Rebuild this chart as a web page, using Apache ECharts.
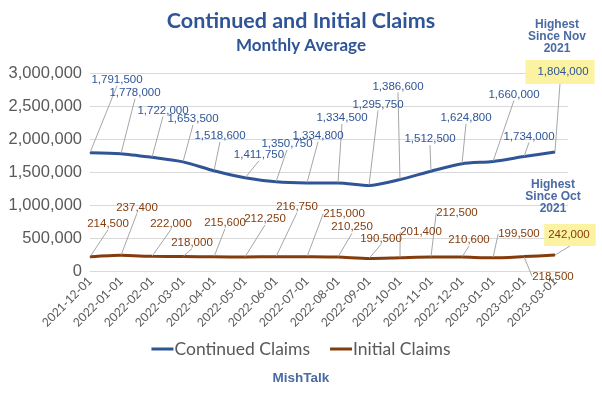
<!DOCTYPE html>
<html>
<head>
<meta charset="utf-8">
<script src="https://cdn.jsdelivr.net/npm/echarts@6/dist/echarts.min.js"></script>
<style>
  html, body { margin: 0; padding: 0; background: #fff; }
  #chart { width: 602px; height: 396px; }
</style>
</head>
<body>
<div id="chart"></div>
<script>
// months on the x axis
var months = ['2021-12-01', '2022-01-01', '2022-02-01', '2022-03-01', '2022-04-01', '2022-05-01',
  '2022-06-01', '2022-07-01', '2022-08-01', '2022-09-01', '2022-10-01', '2022-11-01',
  '2022-12-01', '2023-01-01', '2023-02-01', '2023-03-01'];

var continuedClaims = [1791500, 1778000, 1722000, 1653500, 1518600, 1411750, 1350750, 1334800,
  1334500, 1295750, 1386600, 1512500, 1624800, 1660000, 1734000, 1804000];

var initialClaims = [214500, 237400, 222000, 218000, 215600, 212250, 216750, 215000,
  210250, 190500, 201400, 212500, 210600, 199500, 218500, 242000];

// where each data label sits relative to its point (px), like the excel leader lines
var contLabelOffset = [[27, -73], [14, -61], [11, -47], [10, -43], [6, -35], [14, -23], [11, -38], [11, -47],
  [4, -65], [9, -81], [-2, -93], [-1, -32], [4, -46], [21, -67], [5, -20], [5, -80]];
var initLabelOffset = [[18, -33], [16, -48], [19, -33], [9, -14], [11, -34], [20, -38], [21, -50], [37, -43],
  [14, -30], [12, -20], [21, -26], [26, -44], [7, -17], [26, -24], [29, 20], [15, -20]];

var blue = '#2F5597';
var brown = '#843C0C';
var yellow = '#FBF3A2';
var noteBlue = '#4A6AA5';
var labelFont = 'Liberation Sans';

function buildData(values, highlightPad) {
    return values.map(function (v, i) {
        if (i === values.length - 1) {
            // last point gets the yellow "highest since" box
            return {
                value: [i, v],
                label: { backgroundColor: yellow, padding: highlightPad }
            };
        }
        return [i, v];
    });
}

function layoutFrom(offsets) {
    return function (params) {
        var o = offsets[params.dataIndex];
        return { dx: o[0], dy: o[1] };
    };
}

var chart = echarts.init(document.getElementById('chart'));

chart.setOption({
    animation: false,
    title: [{
        text: 'Continued and Initial Claims',
        left: 'center',
        top: 5,
        itemGap: 5,
        textStyle: { fontFamily: 'Lato', fontWeight: 'bold', fontSize: 21.5, color: blue },
        subtext: 'Monthly Average',
        subtextStyle: { fontFamily: 'Lato', fontWeight: 'bold', fontSize: 17, color: blue }
    }, {
        text: 'Highest\nSince Nov\n2021',
        left: 552,
        top: 14,
        textAlign: 'center',
        textStyle: { fontFamily: 'Liberation Sans', fontWeight: 'bold', fontSize: 12, lineHeight: 12, color: noteBlue }
    }, {
        text: 'Highest\nSince Oct\n2021',
        left: 548,
        top: 174,
        textAlign: 'center',
        textStyle: { fontFamily: 'Liberation Sans', fontWeight: 'bold', fontSize: 12, lineHeight: 12, color: noteBlue }
    }, {
        text: 'MishTalk',
        left: 'center',
        top: 366,
        textStyle: { fontFamily: 'Liberation Sans', fontWeight: 'bold', fontSize: 13.5, color: noteBlue }
    }],
    legend: {
        bottom: 33,
        left: 'center',
        icon: 'rect',
        itemWidth: 22,
        itemHeight: 3,
        itemGap: 20,
        textStyle: { fontFamily: 'Lato', fontSize: 17.5, color: '#595959', padding: [0, 0, 0, -4] },
        data: ['Continued Claims', 'Initial Claims']
    },
    grid: { left: 90, right: 34, top: 73, bottom: 125 },
    xAxis: {
        type: 'value',
        min: 0,
        max: 15.42,
        interval: 1,
        axisLine: { lineStyle: { color: '#D9D9D9' } },
        axisTick: { show: false },
        splitLine: { show: false },
        axisLabel: {
            rotate: 45,
            margin: 8,
            fontFamily: 'Lato',
            fontSize: 12,
            color: '#595959',
            showMaxLabel: false,
            formatter: function (v) {
                return Number.isInteger(v) ? months[v] : '';
            }
        }
    },
    yAxis: {
        type: 'value',
        min: 0,
        max: 3000000,
        interval: 500000,
        axisLine: { show: false },
        axisTick: { show: false },
        splitLine: { lineStyle: { color: '#D9D9D9' } },
        axisLabel: {
            margin: 8,
            fontFamily: 'Liberation Sans',
            fontSize: 16.5,
            color: '#595959',
            formatter: function (v) { return v.toLocaleString('en-US'); }
        }
    },
    series: [{
        name: 'Continued Claims',
        type: 'line',
        smooth: 0.25,
        symbol: 'circle',
        symbolSize: 1,
        data: buildData(continuedClaims, [9, 6, 3, 12]),
        lineStyle: { color: blue, width: 3 },
        itemStyle: { color: blue },
        label: {
            show: true,
            position: 'inside',
            fontFamily: labelFont,
            fontSize: 11.5,
            color: blue,
            formatter: function (p) { return p.value[1].toLocaleString('en-US'); }
        },
        labelLine: { show: true, lineStyle: { color: '#A6A6A6', width: 1 } },
        labelLayout: layoutFrom(contLabelOffset)
    }, {
        name: 'Initial Claims',
        type: 'line',
        smooth: 0.25,
        symbol: 'circle',
        symbolSize: 1,
        data: buildData(initialClaims, [5, 6, 5, 4]),
        lineStyle: { color: brown, width: 3 },
        itemStyle: { color: brown },
        label: {
            show: true,
            position: 'inside',
            fontFamily: labelFont,
            fontSize: 11.5,
            color: brown,
            formatter: function (p) { return p.value[1].toLocaleString('en-US'); }
        },
        labelLine: { show: true, lineStyle: { color: '#A6A6A6', width: 1 } },
        labelLayout: layoutFrom(initLabelOffset)
    }]
});
</script>
</body>
</html>
